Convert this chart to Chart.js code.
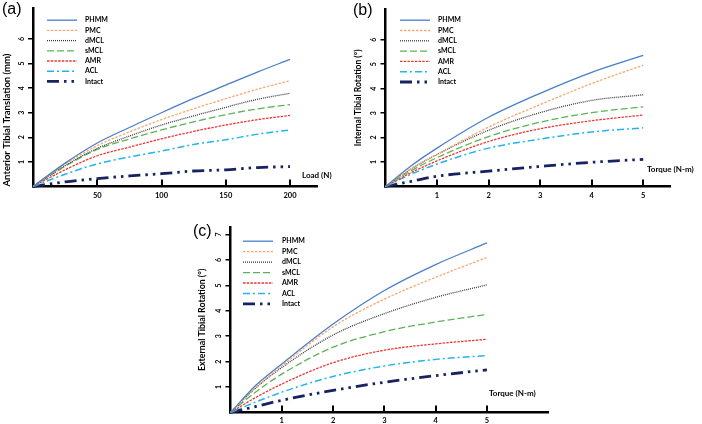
<!DOCTYPE html>
<html>
<head>
<meta charset="utf-8">
<script src="https://cdn.jsdelivr.net/npm/chart.js@4.4.1/dist/chart.umd.min.js"></script>
<style>
  html, body { margin: 0; padding: 0; background: #fff; }
  body { width: 702px; height: 424px; position: relative; overflow: hidden; }
  canvas { position: absolute; }
  #chartA { left: 0; top: 0; }
  #chartB { left: 345px; top: 0; }
  #chartC { left: 190px; top: 218px; }
</style>
</head>
<body>
<canvas id="chartA" width="345" height="205" style="width:345px;height:205px"></canvas>
<canvas id="chartB" width="357" height="205" style="width:357px;height:205px"></canvas>
<canvas id="chartC" width="370" height="206" style="width:370px;height:206px"></canvas>
<script>
// series names, same order in all three panels
const seriesNames = ['PHMM', 'PMC', 'dMCL', 'sMCL', 'AMR', 'ACL', 'Intact'];

// (a) anterior tibial translation (mm) vs load (N)
const loadN   = [0, 25, 50, 75, 100, 125, 150, 175, 200];
const antPHMM = [0, 0.95, 1.77, 2.40, 3.00, 3.58, 4.12, 4.66, 5.17];
const antPMC  = [0, 0.90, 1.66, 2.22, 2.72, 3.16, 3.57, 3.96, 4.30];
const antDMCL = [0, 0.85, 1.55, 2.05, 2.50, 2.87, 3.22, 3.55, 3.79];
const antSMCL = [0, 0.82, 1.51, 1.93, 2.30, 2.63, 2.92, 3.16, 3.33];
const antAMR  = [0, 0.68, 1.25, 1.60, 1.94, 2.24, 2.50, 2.72, 2.89];
const antACL  = [0, 0.50, 0.92, 1.20, 1.44, 1.71, 1.90, 2.13, 2.30];
const antIntact = [0, 0.19, 0.32, 0.43, 0.52, 0.63, 0.68, 0.77, 0.81];
const loadTicks = [50, 100, 150, 200];
const antTicks  = [1, 2, 3, 4, 5, 6];

// (b) internal tibial rotation (deg) vs torque (N-m)
const torqueNm = [0, 0.5, 1, 2, 3, 4, 5];
const intPHMM = [0, 0.85, 1.57, 2.83, 3.81, 4.67, 5.36];
const intPMC  = [0, 0.72, 1.31, 2.43, 3.35, 4.21, 4.96];
const intDMCL = [0, 0.72, 1.31, 2.30, 3.02, 3.52, 3.75];
const intSMCL = [0, 0.65, 1.18, 2.04, 2.63, 3.02, 3.26];
const intAMR  = [0, 0.57, 1.05, 1.84, 2.36, 2.69, 2.92];
const intACL  = [0, 0.50, 0.92, 1.57, 1.94, 2.23, 2.40];
const intIntact = [0, 0.21, 0.42, 0.63, 0.82, 0.99, 1.11];
const torqueTicks = [1, 2, 3, 4, 5];
const intTicks = [1, 2, 3, 4, 5, 6];

// (c) external tibial rotation (deg) vs torque (N-m)
const extPHMM = [0, 1.08, 1.91, 3.48, 4.80, 5.82, 6.67];
const extPMC  = [0, 1.00, 1.83, 3.37, 4.46, 5.32, 6.10];
const extDMCL = [0, 0.98, 1.77, 3.05, 3.89, 4.53, 5.02];
const extSMCL = [0, 0.82, 1.51, 2.57, 3.18, 3.56, 3.86];
const extAMR  = [0, 0.60, 1.12, 1.96, 2.45, 2.70, 2.88];
const extACL  = [0, 0.42, 0.80, 1.42, 1.83, 2.09, 2.24];
const extIntact = [0, 0.24, 0.48, 0.87, 1.19, 1.45, 1.68];
const extTicks = [1, 2, 3, 4, 5, 6, 7];

// line look for each series
const lineStyles = [
  { color: '#4a7ec8', width: 1.3, dash: [] },
  { color: '#f5a870', width: 1.3, dash: [2.5, 1.5] },
  { color: '#3a3a3a', width: 1.3, dash: [1, 1] },
  { color: '#5cb357', width: 1.3, dash: [7, 3] },
  { color: '#ee3535', width: 1.3, dash: [2.5, 1.2] },
  { color: '#22b4ee', width: 1.5, dash: [7, 3, 2, 3] },
  { color: '#172260', width: 2.8, dash: [12, 5, 2.5, 5, 2.5, 5] }
];

const FONT = 'Lato';

// inward x ticks, x label at the right end, panel tag and the legend block
const figureExtras = {
  id: 'figureExtras',
  afterDraw(chart, args, o) {
    const { ctx, chartArea: area } = chart;
    const x = chart.scales.x;
    ctx.save();
    ctx.strokeStyle = '#000';
    ctx.lineWidth = 2;
    o.xTicks.forEach(v => {
      const px = Math.round(x.getPixelForValue(v));
      ctx.beginPath();
      ctx.moveTo(px, area.bottom);
      ctx.lineTo(px, area.bottom - 7);
      ctx.stroke();
    });

    ctx.fillStyle = '#000';
    ctx.textAlign = 'left';
    ctx.textBaseline = 'middle';
    ctx.font = 'bold 8px ' + FONT;
    ctx.fillText(o.xLabel, area.right + o.xLabelDx, area.bottom + o.xLabelDy);

    ctx.font = '16px "Liberation Sans"';
    ctx.textBaseline = 'top';
    ctx.fillText(o.tag, o.tagX, o.tagY);

    ctx.textBaseline = 'middle';
    ctx.font = 'bold 7px ' + FONT;
    chart.data.datasets.forEach((ds, i) => {
      const y = area.top + o.legY + i * o.legStep;
      const x0 = area.left + o.legX;
      ctx.strokeStyle = ds.borderColor;
      ctx.lineWidth = ds.borderWidth;
      ctx.setLineDash(ds.borderDash);
      ctx.beginPath();
      ctx.moveTo(x0, y);
      ctx.lineTo(x0 + 30, y);
      ctx.stroke();
      ctx.setLineDash([]);
      ctx.fillText(ds.label, area.left + o.legTextX, y);
    });
    ctx.restore();
  }
};

function buildPanel(id, xs, series, p) {
  return new Chart(document.getElementById(id), {
    type: 'line',
    data: {
      datasets: series.map((vals, i) => ({
        label: seriesNames[i],
        data: xs.map((xv, k) => ({ x: xv, y: vals[k] })),
        borderColor: lineStyles[i].color,
        borderWidth: lineStyles[i].width,
        borderDash: lineStyles[i].dash,
        pointRadius: 0,
        fill: false,
        cubicInterpolationMode: 'monotone'
      }))
    },
    options: {
      responsive: false,
      animation: false,
      clip: false,
      layout: { padding: { top: p.top, right: p.right, left: 0, bottom: 0 } },
      plugins: {
        legend: { display: false },
        tooltip: { enabled: false },
        figureExtras: {
          xTicks: p.xTicks, xLabel: p.xLabel, xLabelDx: p.xLabelDx, xLabelDy: p.xLabelDy,
          tag: p.tag, tagX: p.tagX, tagY: p.tagY,
          legX: p.legX, legY: p.legY, legStep: p.legStep, legTextX: p.legTextX
        }
      },
      scales: {
        x: {
          type: 'linear', min: 0, max: p.xMax,
          afterBuildTicks: s => { s.ticks = p.xTicks.map(v => ({ value: v })); },
          afterFit: s => { s.height = p.xHeight; },
          grid: { display: false, drawTicks: false },
          border: { display: true, color: '#000', width: 2.5 },
          ticks: { color: '#000', font: { family: FONT, weight: 'bold', size: 7.5 }, padding: p.xPad, maxRotation: 0, autoSkip: false }
        },
        y: {
          min: 0, max: p.yMax,
          afterBuildTicks: s => { s.ticks = p.yTicks.map(v => ({ value: v })); },
          afterFit: s => { s.width = p.yWidth; },
          grid: { display: true, drawOnChartArea: false, drawTicks: true, tickLength: 5, color: '#000', lineWidth: 1.5 },
          border: { display: true, color: '#000', width: 2.5 },
          ticks: { color: '#000', font: { family: FONT, weight: 'bold', size: 7 }, padding: p.yPad, minRotation: 90, maxRotation: 90, crossAlign: 'center', autoSkip: false },
          title: {
            display: true, text: p.yTitle, color: '#000', align: p.yTitleAlign,
            font: { family: FONT, weight: 'bold', size: p.yTitleSize },
            padding: { top: p.yTitlePad, bottom: 0 }
          }
        }
      }
    },
    plugins: [figureExtras]
  });
}

buildPanel('chartA', loadN,
  [antPHMM, antPMC, antDMCL, antSMCL, antAMR, antACL, antIntact], {
  top: 3, right: 28, xHeight: 18.5, yWidth: 33, xMax: 221, yMax: 7.25,
  xTicks: loadTicks, yTicks: antTicks, xPad: 5, yPad: 4,
  yTitle: 'Anterior Tibial Translation (mm)', yTitleAlign: 'start', yTitleSize: 9.5, yTitlePad: 1.2,
  xLabel: 'Load (N)', xLabelDx: -15, xLabelDy: -11.5,
  tag: '(a)', tagX: 2, tagY: 2,
  legX: 14, legY: 12, legStep: 10.2, legTextX: 52
});

buildPanel('chartB', torqueNm,
  [intPHMM, intPMC, intDMCL, intSMCL, intAMR, intACL, intIntact], {
  top: 3, right: 32, xHeight: 18.5, yWidth: 40.5, xMax: 5.52, yMax: 7.25,
  xTicks: torqueTicks, yTicks: intTicks, xPad: 5, yPad: 5,
  yTitle: 'Internal Tibial Rotation (°)', yTitleAlign: 'center', yTitleSize: 8.5, yTitlePad: 7.8,
  xLabel: 'Torque (N-m)', xLabelDx: -23, xLabelDy: -17.5,
  tag: '(b)', tagX: 8, tagY: 3,
  legX: 14.5, legY: 11, legStep: 10.3, legTextX: 52.5
});

buildPanel('chartC', torqueNm,
  [extPHMM, extPMC, extDMCL, extSMCL, extAMR, extACL, extIntact], {
  top: 5.3, right: 12, xHeight: 11.5, yWidth: 40.5, xMax: 6.19, yMax: 7.29,
  xTicks: torqueTicks, yTicks: extTicks, xPad: 4, yPad: 5,
  yTitle: 'External Tibial Rotation (°)', yTitleAlign: 'center', yTitleSize: 8.8, yTitlePad: 6.6,
  xLabel: 'Torque (N-m)', xLabelDx: -59, xLabelDy: -19.5,
  tag: '(c)', tagX: 3, tagY: 6,
  legX: 12.5, legY: 14, legStep: 10.45, legTextX: 51.5
});
</script>
</body>
</html>
